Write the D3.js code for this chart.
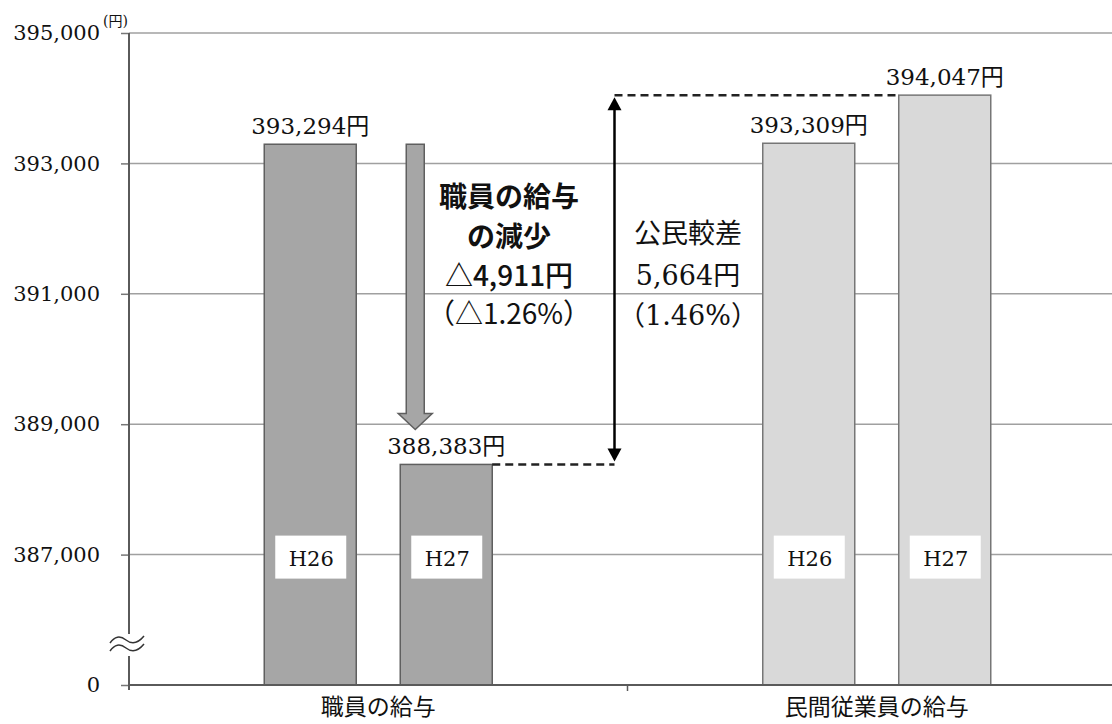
<!DOCTYPE html>
<html>
<head>
<meta charset="utf-8">
<script src="https://cdn.jsdelivr.net/npm/d3@7"></script>
<style>
	body { margin: 0; background: #fff; }
	svg { display: block; }
</style>
</head>
<body>
<script>
// data
var groups = ["職員の給与", "民間従業員の給与"];
var years = ["H26", "H27"];
var staffPay = [393294, 388383];
var privatePay = [393309, 394047];
var yTicks = [385000, 387000, 389000, 391000, 393000, 395000];
var yTickLabels = ["0", "387,000", "389,000", "391,000", "393,000", "395,000"];
var dropText = ["職員の給与", "の減少", "△4,911円", "（△1.26%）"];
var gapText = ["公民較差", "5,664円", "（1.46%）"];

var width = 1112,
		height = 724,
		plotLeft = 129,
		plotRight = 1126,
		plotTop = 33,
		plotBottom = 685;

var serif = "'DejaVu Serif', 'Noto Sans CJK JP', serif";
var sans = "'Noto Sans CJK JP', 'Noto Sans', sans-serif";

var svg = d3.select("body")
	.append("svg")
	.attr("width", width)
	.attr("height", height);

var x = d3.scaleBand().domain(groups).range([plotLeft, plotRight]);
var xi = d3.scaleBand().domain(years).range([-114, 114]).paddingInner(0.3235);
var y = d3.scaleLinear().domain([385000, 395000]).range([plotBottom, plotTop]);

function barX(g, yr) {
	return x(g) + x.bandwidth() / 2 + xi(yr);
}

// gridlines
svg.append("g")
	.selectAll("line")
	.data(yTicks.slice(1))
	.enter()
	.append("line")
	.attr("x1", plotLeft)
	.attr("x2", width)
	.attr("y1", function (d) { return y(d); })
	.attr("y2", function (d) { return y(d); })
	.style("stroke", "#a0a0a0")
	.style("stroke-width", 1.5);

// bars
var bars = [];
for (var i = 0; i < years.length; i++) {
	bars.push({ g: groups[0], yr: years[i], v: staffPay[i], fill: "#a6a6a6", stroke: "#5f5f5f" });
}
for (i = 0; i < years.length; i++) {
	bars.push({ g: groups[1], yr: years[i], v: privatePay[i], fill: "#d9d9d9", stroke: "#767676" });
}

var barG = svg.append("g")
	.selectAll("g")
	.data(bars)
	.enter()
	.append("g");

barG.append("rect")
	.attr("x", function (d) { return barX(d.g, d.yr); })
	.attr("y", function (d) { return y(d.v); })
	.attr("width", xi.bandwidth())
	.attr("height", function (d) { return plotBottom - y(d.v); })
	.style("fill", function (d) { return d.fill; })
	.style("stroke", function (d) { return d.stroke; })
	.style("stroke-width", 1.5);

barG.append("text")
	.attr("x", function (d) { return barX(d.g, d.yr) + xi.bandwidth() / 2; })
	.attr("y", function (d) { return y(d.v) - 10; })
	.attr("text-anchor", "middle")
	.style("font-family", serif)
	.style("font-size", "23px")
	.style("fill", "#111")
	.text(function (d) { return d3.format(",")(d.v) + "円"; });

// year boxes
barG.append("rect")
	.attr("x", function (d) { return barX(d.g, d.yr) + xi.bandwidth() / 2 - 35; })
	.attr("y", y(387000) - 19)
	.attr("width", 71)
	.attr("height", 43)
	.style("fill", "#fff");

barG.append("text")
	.attr("x", function (d) { return barX(d.g, d.yr) + xi.bandwidth() / 2 + 1; })
	.attr("y", y(387000) + 11)
	.attr("text-anchor", "middle")
	.style("font-family", serif)
	.style("font-size", "21px")
	.style("fill", "#111")
	.text(function (d) { return d.yr; });

// axes
var yAxis = svg.append("g")
	.attr("transform", "translate(" + plotLeft + ",0)")
	.call(d3.axisLeft(y)
		.tickValues(yTicks)
		.tickSize(8)
		.tickPadding(21)
		.tickFormat(function (d, i) { return yTickLabels[i]; }));
yAxis.select(".domain").remove();
yAxis.selectAll(".tick line").style("stroke", "#777").style("stroke-width", 1.5);
yAxis.selectAll(".tick text")
	.style("font-family", serif)
	.style("font-size", "21px")
	.style("fill", "#111");

svg.append("line")
	.attr("x1", plotLeft).attr("x2", plotLeft)
	.attr("y1", plotTop).attr("y2", plotBottom + 5)
	.style("stroke", "#5a5a5a")
	.style("stroke-width", 2);

var xAxis = svg.append("g")
	.attr("transform", "translate(0," + plotBottom + ")")
	.call(d3.axisBottom(x).tickSize(0).tickPadding(14));
xAxis.select(".domain").remove();
xAxis.selectAll(".tick text")
	.style("font-family", sans)
	.style("font-size", "23px")
	.style("fill", "#111");

svg.append("line")
	.attr("x1", plotLeft).attr("x2", width)
	.attr("y1", plotBottom).attr("y2", plotBottom)
	.style("stroke", "#5a5a5a")
	.style("stroke-width", 2);
svg.append("line")
	.attr("x1", x(groups[1])).attr("x2", x(groups[1]))
	.attr("y1", plotBottom).attr("y2", plotBottom + 6)
	.style("stroke", "#5a5a5a")
	.style("stroke-width", 1.5);

// unit
svg.append("text")
	.attr("x", plotLeft - 26)
	.attr("y", plotTop - 7)
	.style("font-family", serif)
	.style("font-size", "14px")
	.style("fill", "#111")
	.text("(円)");

// axis break
var by = y(385000) - 40;
svg.append("rect")
	.attr("x", plotLeft - 4).attr("y", by - 11)
	.attr("width", 8).attr("height", 22)
	.style("fill", "#fff");
[-4, 4].forEach(function (o) {
	svg.append("path")
		.attr("d", "M" + (plotLeft - 19) + "," + (by + o + 2) +
			" Q" + (plotLeft - 12) + "," + (by + o - 8) + " " + (plotLeft - 3) + "," + (by + o - 1) +
			" T" + (plotLeft + 15) + "," + (by + o - 5))
		.style("fill", "none")
		.style("stroke", "#333")
		.style("stroke-width", 1.5);
});

// gray block arrow (decrease)
var ax = barX(groups[0], years[1]) + 15,
		aTop = y(staffPay[0]),
		aTip = y(staffPay[1]) - 35,
		aHead = aTip - 16;
svg.append("path")
	.attr("d", "M" + (ax - 9) + "," + aTop + " L" + (ax + 9) + "," + aTop +
		" L" + (ax + 9) + "," + aHead + " L" + (ax + 17) + "," + aHead +
		" L" + ax + "," + aTip + " L" + (ax - 17) + "," + aHead +
		" L" + (ax - 9) + "," + aHead + "Z")
	.style("fill", "#a6a6a6")
	.style("stroke", "#5f5f5f")
	.style("stroke-width", 1.5);

// dashed guides
var dx = x(groups[1]) - 13;
svg.append("line")
	.attr("x1", barX(groups[0], years[1]) + xi.bandwidth()).attr("x2", dx)
	.attr("y1", y(staffPay[1])).attr("y2", y(staffPay[1]))
	.style("stroke", "#222").style("stroke-width", 2.5).style("stroke-dasharray", "8,5");
svg.append("line")
	.attr("x1", dx).attr("x2", barX(groups[1], years[1]))
	.attr("y1", y(privatePay[1])).attr("y2", y(privatePay[1]))
	.style("stroke", "#222").style("stroke-width", 2.5).style("stroke-dasharray", "8,5");

// double arrow
var t1 = y(privatePay[1]) + 2, t2 = y(staffPay[1]) - 3;
svg.append("line")
	.attr("x1", dx).attr("x2", dx)
	.attr("y1", t1 + 10).attr("y2", t2 - 10)
	.style("stroke", "#000").style("stroke-width", 2.5);
svg.append("path")
	.attr("d", "M" + dx + "," + t1 + " L" + (dx + 7) + "," + (t1 + 13) + " L" + (dx - 7) + "," + (t1 + 13) + "Z")
	.style("fill", "#000");
svg.append("path")
	.attr("d", "M" + dx + "," + t2 + " L" + (dx + 7) + "," + (t2 - 13) + " L" + (dx - 7) + "," + (t2 - 13) + "Z")
	.style("fill", "#000");

// annotation texts
var dropY = [207, 247, 286, 324];
var dropWeight = ["bold", "bold", "500", "normal"];
svg.append("g")
	.selectAll("text")
	.data(dropText)
	.enter()
	.append("text")
	.attr("x", 509)
	.attr("y", function (d, i) { return dropY[i]; })
	.attr("text-anchor", "middle")
	.style("font-family", sans)
	.style("font-size", "28px")
	.style("font-weight", function (d, i) { return dropWeight[i]; })
	.style("fill", "#111")
	.text(function (d) { return d; });

var gapY = [243, 285, 325];
svg.append("g")
	.selectAll("text")
	.data(gapText)
	.enter()
	.append("text")
	.attr("x", 688)
	.attr("y", function (d, i) { return gapY[i]; })
	.attr("text-anchor", "middle")
	.style("font-family", serif)
	.style("font-size", "27px")
	.style("fill", "#111")
	.text(function (d) { return d; });
</script>
</body>
</html>
